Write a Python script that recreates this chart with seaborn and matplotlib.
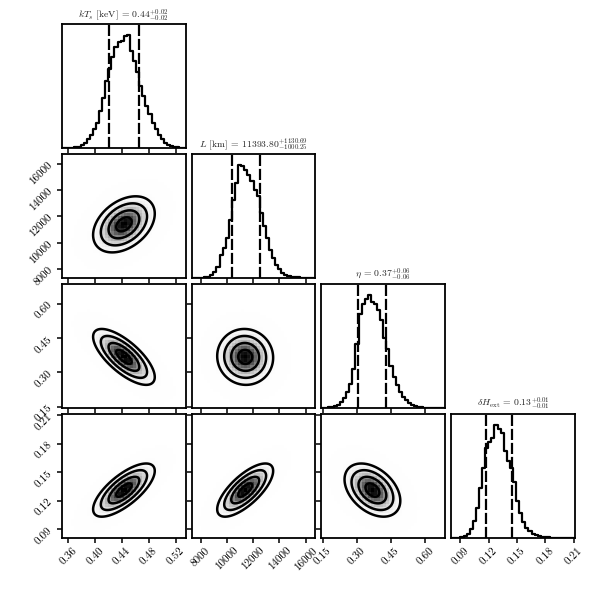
import numpy as np
import pandas as pd
import matplotlib
matplotlib.use("Agg")
import matplotlib.pyplot as plt
from matplotlib.colors import LinearSegmentedColormap
import seaborn as sns

# ---------------- data ----------------
labels = [r"$kT_s$ [keV]", r"$L$ [km]", r"$\eta$", r"$\delta H_{\rm ext}$"]
ranges = [(0.3505, 0.535), (7320.0, 16740.0), (0.145, 0.686), (0.0805, 0.211)]
ticks = [[0.36, 0.40, 0.44, 0.48, 0.52],
         [8000, 10000, 12000, 14000, 16000],
         [0.15, 0.30, 0.45, 0.60],
         [0.09, 0.12, 0.15, 0.18, 0.21]]
tick_labels = [["0.36", "0.40", "0.44", "0.48", "0.52"],
               ["8000", "10000", "12000", "14000", "16000"],
               ["0.15", "0.30", "0.45", "0.60"],
               ["0.09", "0.12", "0.15", "0.18", "0.21"]]

# 16th / 50th / 84th percentiles
q16 = [0.420, 10393.55, 0.307, 0.117]
q50 = [0.443, 11393.80, 0.368, 0.131]
q84 = [0.466, 12524.49, 0.429, 0.145]

# marginal histogram heights (40 bins over each range), arbitrary units
hist_kT = [0, 0, 0, 1, 2, 4, 8, 15, 25, 38, 55, 75, 110, 150, 200, 235, 270, 300, 315, 320,
           333, 336, 290, 260, 225, 185, 155, 125, 100, 75, 55, 38, 25, 15, 9, 5, 3, 2, 1, 0]
hist_L = [0, 1, 1, 1, 2, 4, 8, 19, 34, 68, 89, 119, 174, 234, 284, 337, 334, 324, 309, 289,
          264, 244, 194, 154, 119, 84, 59, 39, 26, 16, 9, 6, 4, 3, 2, 1, 1, 0, 0, 0]
hist_eta = [0, 0, 2, 3, 5, 9, 17, 30, 49, 72, 118, 190, 280, 310, 325, 337, 318, 310, 292, 262,
            210, 175, 125, 94, 70, 49, 34, 24, 16, 10, 6, 4, 2, 1, 1, 0, 0, 0, 0, 0]
hist_dH = [0, 0, 1, 2, 5, 12, 28, 50, 90, 150, 210, 270, 287, 300, 337, 325, 315, 260, 232, 210,
           168, 110, 75, 48, 30, 20, 13, 9, 6, 4, 3, 2, 1, 0, 0, 0, 0, 0, 0, 0]
hists = [hist_kT, hist_L, hist_eta, hist_dH]

corr = {(1, 0): 0.38, (2, 0): -0.72, (2, 1): -0.03,
        (3, 0): 0.72, (3, 1): 0.72, (3, 2): -0.40}

# enclosed probability mass of the contour levels (0.5, 1, 1.5, 2 sigma)
mass_levels = [0.118, 0.393, 0.675, 0.865]

# ---------------- style ----------------
sns.set_theme(style="ticks")
plt.rcParams.update({
    "font.family": "serif",
    "font.serif": ["cmr10"],
    "mathtext.fontset": "cm",
    "axes.formatter.use_mathtext": True,
    "axes.unicode_minus": False,
    "axes.edgecolor": "black",
    "axes.linewidth": 1.3,
    "xtick.color": "black",
    "ytick.color": "black",
    "xtick.major.size": 3.5,
    "ytick.major.size": 3.5,
    "xtick.major.width": 1.1,
    "ytick.major.width": 1.1,
    "xtick.direction": "out",
    "ytick.direction": "out",
    "font.size": 7,
})

n = 4
fig, axes = plt.subplots(n, n, figsize=(6, 6), dpi=100)
fig.subplots_adjust(left=0.1033, right=0.958, bottom=0.1033, top=0.96,
                    wspace=0.05, hspace=0.05)

density_cmap = LinearSegmentedColormap.from_list("density_cmap", [(0, 0, 0, 1), (1, 1, 1, 0)])
nbins = 40

for i in range(n):
    for j in range(n):
        ax = axes[i, j]
        if j > i:
            ax.set_axis_off()
            continue
        xlo, xhi = ranges[j]
        if i == j:
            edges = np.linspace(xlo, xhi, nbins + 1)
            centers = 0.5 * (edges[1:] + edges[:-1])
            h = np.asarray(hists[i], float)
            df = pd.DataFrame({"x": centers, "w": h})
            sns.histplot(data=df, x="x", weights="w", bins=nbins, binrange=(xlo, xhi),
                         element="step", fill=False, color="black", linewidth=1.6, ax=ax)
            ax.set_ylim(0, 1.1 * h.max())
            ax.set_yticks([])
            ax.set_ylabel("")
            for q in (q16[i], q84[i]):
                ax.axvline(q, color="black", ls=(0, (5, 1.3)), lw=1.6)
            up = q84[i] - q50[i]
            lo = q50[i] - q16[i]
            title = labels[i] + " = " + r"$%.2f^{+%.2f}_{-%.2f}$" % (q50[i], up, lo)
            ax.set_title(title, fontsize=7, pad=5)
        else:
            ylo, yhi = ranges[i]
            mx, my = q50[j], q50[i]
            sx = 0.5 * (q84[j] - q16[j])
            sy = 0.5 * (q84[i] - q16[i])
            rho = corr[(i, j)]

            def dens(X, Y):
                u = (X - mx) / sx
                v = (Y - my) / sy
                Q = (u * u - 2 * rho * u * v + v * v) / (1 - rho * rho)
                return np.exp(-0.5 * Q)

            # coarse density image
            ex = np.linspace(xlo, xhi, nbins + 1)
            ey = np.linspace(ylo, yhi, nbins + 1)
            cx = 0.5 * (ex[1:] + ex[:-1])
            cy = 0.5 * (ey[1:] + ey[:-1])
            CX, CY = np.meshgrid(cx, cy)
            Hc = dens(CX, CY)
            ax.pcolormesh(ex, ey, Hc.max() - Hc, cmap=density_cmap, shading="flat",
                          antialiased=False)

            # smooth contours
            gx = np.linspace(xlo, xhi, 300)
            gy = np.linspace(ylo, yhi, 300)
            GX, GY = np.meshgrid(gx, gy)
            Z = dens(GX, GY)
            zs = np.sort(Z.ravel())[::-1]
            cs = np.cumsum(zs)
            cs /= cs[-1]
            V = sorted(zs[np.searchsorted(cs, m)] for m in mass_levels)
            ax.contour(GX, GY, Z, levels=V, colors="black", linewidths=1.8)
            ax.set_ylim(ylo, yhi)
            ax.set_yticks(ticks[i])
            if j == 0:
                ax.set_yticklabels(tick_labels[i], rotation=45)
            else:
                ax.set_yticklabels([])

        ax.set_xlim(xlo, xhi)
        ax.set_xticks(ticks[j])
        if i == n - 1:
            ax.set_xticklabels(tick_labels[j], rotation=45)
        else:
            ax.set_xticklabels([])
        ax.set_xlabel("")
        ax.tick_params(labelsize=8, pad=2)
        for s in ax.spines.values():
            s.set_visible(True)
            s.set_color("black")

fig.savefig("out.png", dpi=100)
